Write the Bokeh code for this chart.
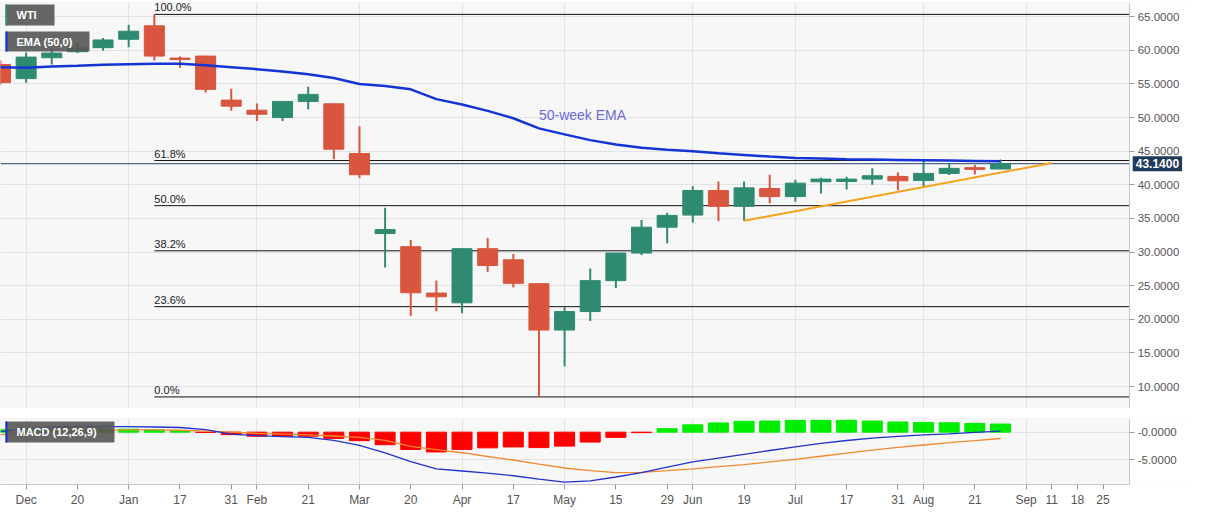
import numpy as np
from bokeh.plotting import figure
from bokeh.models import (Range1d, FixedTicker, NumeralTickFormatter, Label, LinearAxis,
                          BoxAnnotation, ColumnDataSource, Grid)
from bokeh.core.properties import value
from bokeh.layouts import column
from bokeh.embed import file_html
from bokeh.resources import INLINE

# ---------------- data ----------------
weeks = list(range(40))
opens = [57.9, 55.8, 58.9, 59.8, 60.4, 61.65, 63.65, 58.85, 59.15, 52.6,
         51.1, 50.0, 52.4, 52.05, 44.65, 32.75, 30.8, 23.9, 22.45, 30.5,
         28.85, 25.3, 18.4, 21.15, 25.75, 29.85, 33.7, 35.5, 39.15, 36.8,
         39.45, 38.25, 40.45, 40.5, 40.85, 41.25, 40.65, 41.7, 42.55, 42.35]
highs = [58.5, 59.7, 60.2, 61.25, 61.85, 63.8, 65.35, 59.1, 59.2, 54.3,
         52.1, 52.45, 54.6, 52.15, 48.7, 36.6, 31.8, 25.75, 30.6, 32.1,
         29.7, 25.35, 21.8, 27.55, 29.9, 34.75, 35.85, 39.8, 40.5, 40.5,
         41.5, 40.75, 41.05, 41.2, 42.45, 41.85, 43.55, 43.15, 43.0, 43.75]
lows = [54.9, 55.2, 57.9, 59.6, 59.95, 60.45, 58.5, 57.4, 53.75, 51.0,
        49.5, 49.5, 51.2, 43.8, 41.0, 27.7, 20.5, 21.2, 20.9, 27.05,
        24.75, 8.45, 13.0, 19.75, 24.65, 29.55, 31.3, 34.4, 34.6, 34.65,
        37.25, 37.5, 38.7, 39.3, 40.0, 39.2, 39.8, 41.45, 41.55, 42.3]
closes = [55.2, 59.0, 59.6, 60.35, 61.55, 62.85, 59.15, 58.65, 54.2, 51.7,
          50.5, 52.4, 53.45, 45.3, 41.5, 33.35, 23.95, 23.35, 30.5, 28.0,
          25.35, 18.4, 21.15, 25.75, 29.85, 33.7, 35.45, 39.15, 36.8, 39.55,
          38.25, 40.25, 40.85, 40.85, 41.35, 40.6, 41.7, 42.45, 42.3, 43.14]
ema50 = [57.5, 57.4, 57.6, 57.7, 57.85, 57.95, 58.0, 58.0, 57.8, 57.5,
         57.2, 56.85, 56.45, 55.9, 55.0, 54.7, 54.2, 52.75, 51.95, 51.0,
         49.9, 48.4, 47.5, 46.65, 46.0, 45.5, 45.2, 45.0, 44.7, 44.45,
         44.2, 44.0, 43.9, 43.8, 43.75, 43.7, 43.65, 43.6, 43.55, 43.5]
macd_line = [0.1, 0.6, 0.95, 1.0, 1.0, 1.0, 0.95, 0.85, 0.45, -0.35,
             -0.65, -0.8, -0.95, -1.5, -2.4, -3.8, -5.4, -6.7, -7.1, -7.5,
             -7.97, -8.6, -9.15, -8.9, -8.2, -7.4, -6.4, -5.45, -4.75, -4.05,
             -3.35, -2.67, -2.05, -1.52, -1.1, -0.78, -0.5, -0.3, -0.05, 0.2]
signal_line = [-0.45, -0.2, 0.05, 0.25, 0.38, 0.42, 0.42, 0.35, 0.2, 0.0,
               -0.2, -0.35, -0.5, -0.7, -0.95, -1.5, -2.6, -3.2, -3.76, -4.45,
               -5.09, -5.85, -6.55, -7.05, -7.4, -7.35, -7.05, -6.7, -6.3, -5.95,
               -5.45, -4.97, -4.4, -3.83, -3.3, -2.79, -2.35, -1.93, -1.55, -1.16]
macd_hist = [0.45, 0.5, 0.55, 0.55, 0.55, 0.55, 0.42, 0.3, -0.05, -0.45,
             -0.74, -0.74, -0.74, -1.14, -1.55, -2.29, -3.16, -3.62, -3.16, -2.87,
             -2.7, -2.82, -2.55, -1.81, -0.95, -0.08, 0.64, 1.34, 1.69, 1.98,
             2.03, 2.16, 2.16, 2.16, 2.03, 1.86, 1.78, 1.72, 1.6, 1.49]
trend_x = [29, 41]
trend_y = [34.65, 43.25]
fib_ratios = [1.0, 0.618, 0.5, 0.382, 0.236, 0.0]
fib_labels = ["100.0%", "61.8%", "50.0%", "38.2%", "23.6%", "0.0%"]
tick_weeks = [1, 3, 5, 7, 9, 10, 12, 14, 16, 18, 20, 22, 24, 26, 27, 29, 31, 33, 35, 36, 38, 40, 41, 42, 43]
tick_labels = ["Dec", "20", "Jan", "17", "31", "Feb", "21", "Mar", "20", "Apr", "17", "May",
               "15", "29", "Jun", "19", "Jul", "17", "31", "Aug", "21", "Sep", "11", "18", "25"]
month_weeks = [1, 5, 10, 14, 18, 22, 27, 31, 36, 40]
price_ticks = [10, 15, 20, 25, 30, 35, 40, 45, 50, 55, 60, 65]
macd_ticks = [-5, 0]
macd_tick_labels = ["-5.0000", "-0.0000"]

# ---------------- styling ----------------
FONT = "Liberation Sans"
GREEN = "#2e8b71"
RED = "#d9553e"
BG = "#f7f7f7"
GRID = "#e3e3e6"
AXIS_LINE = "#c8c8d0"
LABEL_C = "#555555"
W = 1191
PLOT_END = 44.04          # right edge of the chart area (price axis sits here)
X_END = 46.45             # full canvas width in week units

xr = Range1d(0, X_END)

def strip_grids(p):
    p.center = [c for c in p.center if not isinstance(c, Grid)]

def style_axis(ax, size="11.5px"):
    ax.axis_line_color = AXIS_LINE
    ax.major_tick_line_color = "#999999"
    ax.major_tick_out = 5
    ax.major_tick_in = 0
    ax.minor_tick_line_color = None
    ax.major_label_text_color = LABEL_C
    ax.major_label_text_font = FONT
    ax.major_label_text_font_size = size
    ax.major_label_standoff = 3

def chart_area(p, yticks):
    strip_grids(p)
    p.add_layout(Grid(dimension=0, ticker=FixedTicker(ticks=month_weeks), grid_line_color=GRID))
    p.add_layout(Grid(dimension=1, ticker=FixedTicker(ticks=yticks), grid_line_color=GRID))
    # white area to the right of the chart (price-axis region)
    p.add_layout(BoxAnnotation(left=PLOT_END, fill_color="white", fill_alpha=1,
                               line_color=None, level="underlay"))
    p.add_layout(BoxAnnotation(right=PLOT_END, fill_alpha=0, line_color="#d0d0d8",
                               line_width=1, level="underlay"))
    ax = LinearAxis(fixed_location=PLOT_END, ticker=FixedTicker(ticks=yticks))
    style_axis(ax)
    p.add_layout(ax, "right")
    return ax

# ---------------- main price chart ----------------
p1 = figure(width=W, height=408, x_range=xr, y_range=Range1d(6.73, 67.12),
            x_axis_location=None, y_axis_location=None,
            output_backend="svg", toolbar_location=None,
            min_border_left=0, min_border_right=0, min_border_top=2, min_border_bottom=0,
            background_fill_color=BG, border_fill_color="white", outline_line_color=None)
ax1 = chart_area(p1, price_ticks)
ax1.formatter = NumeralTickFormatter(format="0.0000")

colors = [GREEN if c >= o else RED for o, c in zip(opens, closes)]
src = ColumnDataSource(dict(
    x=weeks, o=opens, h=highs, l=lows, c=closes,
    top=[max(o, c) for o, c in zip(opens, closes)],
    bot=[min(o, c) for o, c in zip(opens, closes)],
    color=colors))

# fibonacci retracement
hi_idx = int(np.argmax(highs))
lo_idx = int(np.argmin(lows))
fib_hi, fib_lo = highs[hi_idx], lows[lo_idx]
fib_levels = [fib_lo + r * (fib_hi - fib_lo) for r in fib_ratios]
fsrc = ColumnDataSource(dict(x0=[hi_idx] * len(fib_levels), x1=[PLOT_END] * len(fib_levels),
                             y=fib_levels, t=fib_labels))
p1.segment(x0="x0", y0="y", x1="x1", y1="y", source=fsrc, line_color="#111111", line_width=1)
p1.text(x="x0", y="y", text="t", source=fsrc, text_font=value(FONT),
        text_font_size=value("11px"), text_color="#222222", text_baseline="bottom",
        y_offset=-1)

# current price line
p1.segment(x0=[xr.start], y0=[closes[-1]], x1=[PLOT_END], y1=[closes[-1]],
           line_color="#24456a", line_width=1)

# candles
p1.segment(x0="x", y0="h", x1="x", y1="l", source=src, line_color="color", line_width=2)
p1.vbar(x="x", width=0.78, top="top", bottom="bot", source=src,
        fill_color="color", line_color="color")

# EMA and trend line
p1.line(weeks, ema50, line_color="#1534d6", line_width=2.5)
p1.line(trend_x, trend_y, line_color="#f7a21b", line_width=2)

p1.add_layout(Label(x=21.0, y=50.4, text="50-week EMA", text_color="#6b6bd9",
                    text_font=FONT, text_font_size="14px", text_baseline="middle"))

# legend boxes
def tag(p, left, right, top, bottom, text, stripe):
    p.add_layout(BoxAnnotation(left=left, right=right, top=top, bottom=bottom,
                               left_units="screen", right_units="screen",
                               top_units="screen", bottom_units="screen",
                               fill_color="#555555", fill_alpha=0.9, line_color=None))
    p.add_layout(BoxAnnotation(left=left, right=left + 2, top=top, bottom=bottom,
                               left_units="screen", right_units="screen",
                               top_units="screen", bottom_units="screen",
                               fill_color=stripe, fill_alpha=1, line_color=None))
    p.add_layout(Label(x=left + 11, y=(top + bottom) / 2, x_units="screen", y_units="screen",
                       text=text, text_color="white", text_font=FONT, text_font_size="11px",
                       text_font_style="bold", text_baseline="middle"))

tag(p1, 5, 54, 404, 383, "WTI", GREEN)
tag(p1, 5, 89, 377, 357, "EMA (50,0)", "#1534d6")

# price tag on axis
p1.add_layout(Label(x=PLOT_END, y=closes[-1], x_offset=3, text=f"{closes[-1]:.4f}",
                    text_color="white", text_font=FONT, text_font_size="12px",
                    text_font_style="bold", text_baseline="middle",
                    background_fill_color="#1f3a5a", padding=3))

# ---------------- MACD panel ----------------
p2 = figure(width=W, height=101, x_range=xr, y_range=Range1d(-9.57, 2.5),
            x_axis_location="below", y_axis_location=None,
            output_backend="svg", toolbar_location=None,
            min_border_left=0, min_border_right=0, min_border_top=10, min_border_bottom=0,
            background_fill_color=BG, border_fill_color="white", outline_line_color=None)
ax2 = chart_area(p2, macd_ticks)
ax2.major_label_overrides = {t: s for t, s in zip(macd_ticks, macd_tick_labels)}
p2.xaxis.ticker = FixedTicker(ticks=tick_weeks)
p2.xaxis.major_label_overrides = {t: s for t, s in zip(tick_weeks, tick_labels)}
p2.xaxis.bounds = (xr.start, PLOT_END)
style_axis(p2.xaxis[0], "12px")

hcol = ["#00ee00" if v >= 0 else "#ff0000" for v in macd_hist]
p2.vbar(x=weeks, width=0.78, top=macd_hist, bottom=0, fill_color=hcol, line_color=hcol)
p2.line(weeks, signal_line, line_color="#f08a30", line_width=1.3)
p2.line(weeks, macd_line, line_color="#2233cc", line_width=1.3)

tag(p2, 5, 114, 63, 42, "MACD (12,26,9)", "#1534d6")

layout = column(p1, p2)
open("out.html", "w").write(file_html(layout, INLINE))
